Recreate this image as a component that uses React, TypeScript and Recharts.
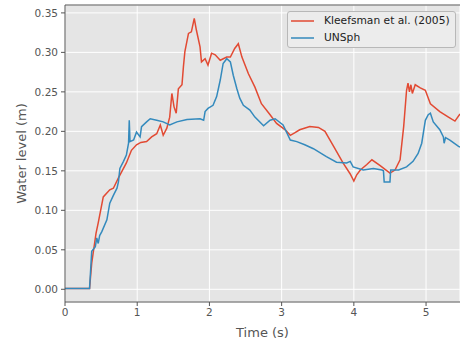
import React from "react"
import { LineChart, Line, XAxis, YAxis, CartesianGrid, ReferenceLine } from "recharts"

// Kleefsman et al. (2005) experimental water level
const kleefTime = [
  0, 0.34, 0.37, 0.43, 0.46, 0.53, 0.62, 0.67, 0.74, 0.85, 0.92, 0.99, 1.05, 1.13, 1.2, 1.27, 1.32, 1.36,
  1.41, 1.45, 1.48, 1.51, 1.54, 1.57, 1.62, 1.64, 1.66, 1.71, 1.75, 1.79, 1.82, 1.87, 1.89, 1.94, 1.98,
  2.03, 2.08, 2.15, 2.24, 2.29, 2.35, 2.4, 2.45, 2.54, 2.63, 2.72, 2.84, 2.93, 3.05, 3.12, 3.18, 3.25,
  3.39, 3.51, 3.6, 3.72, 3.85, 3.95, 4.0, 4.04, 4.09, 4.18, 4.25, 4.36, 4.5, 4.57, 4.64, 4.69, 4.73, 4.75,
  4.77, 4.79, 4.81, 4.85, 4.92, 4.99, 5.06, 5.19, 5.31, 5.4, 5.47,
]
const kleefLevel = [
  0.001, 0.001, 0.033, 0.071, 0.084, 0.117, 0.126, 0.128, 0.141, 0.16, 0.176, 0.183, 0.186, 0.187, 0.193,
  0.197, 0.208, 0.195, 0.204, 0.218, 0.248, 0.231, 0.223, 0.254, 0.259, 0.282, 0.301, 0.324, 0.326, 0.343,
  0.328, 0.307, 0.288, 0.292, 0.284, 0.299, 0.297, 0.29, 0.294, 0.294, 0.305, 0.311, 0.294, 0.273, 0.256,
  0.235, 0.221, 0.21, 0.202, 0.195, 0.198, 0.202, 0.206, 0.205, 0.2, 0.181, 0.16, 0.146, 0.137, 0.145, 0.151,
  0.158, 0.164, 0.157, 0.147, 0.151, 0.164, 0.206, 0.252, 0.261, 0.25, 0.259, 0.248, 0.259, 0.255, 0.252,
  0.235, 0.225, 0.218, 0.213, 0.222,
]

// UNSph simulated water level
const unsphTime = [
  0, 0.34, 0.37, 0.42, 0.44, 0.46, 0.48, 0.51, 0.58, 0.62, 0.67, 0.72, 0.74, 0.76, 0.81, 0.85, 0.88, 0.89,
  0.9, 0.95, 0.99, 1.04, 1.06, 1.13, 1.18, 1.27, 1.36, 1.45, 1.55, 1.69, 1.87, 1.92, 1.94, 1.98, 2.05, 2.1,
  2.15, 2.19, 2.24, 2.29, 2.33, 2.38, 2.42, 2.47, 2.56, 2.63, 2.75, 2.84, 2.91, 3.02, 3.12, 3.21, 3.32,
  3.44, 3.62, 3.76, 3.9, 3.95, 3.99, 4.13, 4.27, 4.39, 4.41, 4.42, 4.5, 4.51, 4.62, 4.73, 4.82, 4.89, 4.94,
  4.99, 5.03, 5.06, 5.1, 5.19, 5.24, 5.25, 5.27, 5.33, 5.45, 5.47,
]
const unsphLevel = [
  0.001, 0.001, 0.048, 0.054, 0.065, 0.058, 0.068, 0.073, 0.088, 0.109, 0.119, 0.128, 0.136, 0.153, 0.162,
  0.17, 0.185, 0.214, 0.187, 0.189, 0.199, 0.193, 0.206, 0.212, 0.216, 0.214, 0.212, 0.208, 0.212, 0.215,
  0.216, 0.214, 0.225, 0.229, 0.233, 0.244, 0.265, 0.286, 0.292, 0.288, 0.271, 0.254, 0.242, 0.233, 0.227,
  0.218, 0.207, 0.214, 0.216, 0.208, 0.189, 0.187, 0.183, 0.178, 0.168, 0.161, 0.16, 0.162, 0.155, 0.151,
  0.153, 0.151, 0.15, 0.136, 0.136, 0.151, 0.151, 0.155, 0.162, 0.172, 0.185, 0.214, 0.221, 0.223, 0.212,
  0.202, 0.193, 0.185, 0.192, 0.189, 0.181, 0.18,
]

const xTicks = [0, 1, 2, 3, 4, 5]
const yTicks = [0, 0.05, 0.1, 0.15, 0.2, 0.25, 0.3, 0.35]

const kleefData = kleefTime.map((t, i) => ({ t, level: kleefLevel[i] }))
const unsphData = unsphTime.map((t, i) => ({ t, level: unsphLevel[i] }))

const RED = "#E24A33"
const BLUE = "#348ABD"
const FONT = "DejaVu Sans"

const legendItems = [
  { name: "Kleefsman et al. (2005)", color: RED },
  { name: "UNSph", color: BLUE },
]

// legend drawn as an overlay so it doesn't eat into the plot area
function ChartLegend() {
  return (
    <div
      style={{
        position: "absolute",
        left: 287,
        top: 11,
        width: 169,
        height: 37,
        boxSizing: "border-box",
        border: "1px solid #b8b8b8",
        borderRadius: 3,
        background: "#ececec",
        padding: "1px 0 0 2px",
        fontFamily: FONT,
        fontSize: 10.7,
        color: "#222",
        lineHeight: "16.5px",
      }}
    >
      {legendItems.map((e) => (
        <div key={e.name} style={{ display: "flex", alignItems: "center" }}>
          <svg width={32} height={10} style={{ marginRight: 2 }}>
            <line x1={1} y1={5} x2={24} y2={5} stroke={e.color} strokeWidth={1.5} />
          </svg>
          <span>{e.name}</span>
        </div>
      ))}
    </div>
  )
}

export default function App() {
  return (
    <div style={{ position: "absolute", left: 0, top: 0, width: 460, height: 343, background: "#fff" }}>
      <LineChart width={460} height={343} margin={{ top: 5, right: 0, left: 0, bottom: 0 }}>
        <CartesianGrid fill="#E5E5E5" stroke="#ffffff" strokeWidth={1} />
        <XAxis
          type="number"
          dataKey="t"
          domain={[0, 5.47]}
          ticks={xTicks}
          allowDataOverflow
          height={41}
          stroke="#555"
          tickSize={4}
          tickMargin={3}
          tick={{ fill: "#555", fontSize: 10.5, fontFamily: FONT }}
          label={{
            value: "Time (s)",
            position: "insideBottom",
            offset: 6,
            fill: "#555",
            fontSize: 13,
            fontFamily: FONT,
          }}
        />
        <YAxis
          type="number"
          dataKey="level"
          domain={[-0.0161, 0.36]}
          ticks={yTicks}
          allowDataOverflow
          width={65}
          stroke="#555"
          tickSize={4}
          tickMargin={3}
          tickFormatter={(v: number) => v.toFixed(2)}
          tick={{ fill: "#555", fontSize: 10.5, fontFamily: FONT }}
          label={{
            value: "Water level (m)",
            angle: -90,
            position: "insideLeft",
            offset: 21,
            fill: "#555",
            fontSize: 13,
            fontFamily: FONT,
            style: { textAnchor: "middle" },
          }}
        />
        <ReferenceLine y={0.36} stroke="#555" strokeWidth={1} />
        <Line
          data={kleefData}
          dataKey="level"
          type="linear"
          stroke={RED}
          strokeWidth={1.5}
          dot={false}
          isAnimationActive={false}
          name="Kleefsman et al. (2005)"
        />
        <Line
          data={unsphData}
          dataKey="level"
          type="linear"
          stroke={BLUE}
          strokeWidth={1.5}
          dot={false}
          isAnimationActive={false}
          name="UNSph"
        />
      </LineChart>
      <ChartLegend />
    </div>
  )
}
